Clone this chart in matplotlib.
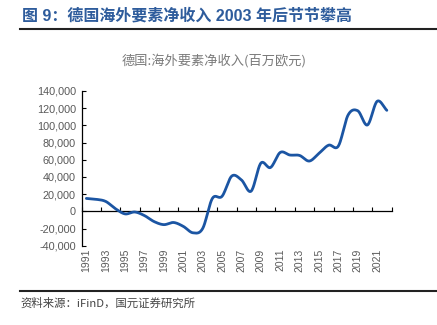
import matplotlib
matplotlib.use('Agg')
import matplotlib.pyplot as plt
import numpy as np
from matplotlib.lines import Line2D
from matplotlib.ticker import FuncFormatter

plt.rcParams['font.family'] = ['Liberation Sans', 'Noto Sans CJK SC', 'DejaVu Sans']

# data (百万欧元)
years = np.arange(1991, 2023)
income = [15000, 14000, 11500, 3000, -3000, -800, -5000, -12000, -15500, -13000,
          -17500, -25000, -20000, 15000, 17500, 41000, 36500, 23500, 56000, 51000,
          68500, 65500, 65000, 58500, 67500, 77000, 76000, 112000, 117000, 100500,
          128000, 117500]
xtick_years = years[::2]
yticks = np.arange(-40000, 140001, 20000)

title = '图 9：德国海外要素净收入 2003 年后节节攀高'
chart_title = '德国:海外要素净收入(百万欧元)'
source = '资料来源：iFinD，国元证券研究所'


def smooth(x, y, n=20):
    # catmull-rom style smoothing, like the spreadsheet "smoothed line"
    x = np.asarray(x, float)
    y = np.asarray(y, float)
    px = np.concatenate([[2 * x[0] - x[1]], x, [2 * x[-1] - x[-2]]])
    py = np.concatenate([[2 * y[0] - y[1]], y, [2 * y[-1] - y[-2]]])
    t = np.linspace(0, 1, n, endpoint=False)[:, None]
    out_x, out_y = [], []
    for i in range(1, len(px) - 2):
        for p, out in ((px, out_x), (py, out_y)):
            p0, p1, p2, p3 = p[i - 1], p[i], p[i + 1], p[i + 2]
            c1 = p1 + (p2 - p0) / 6
            c2 = p2 - (p3 - p1) / 6
            b = ((1 - t) ** 3 * p1 + 3 * (1 - t) ** 2 * t * c1
                 + 3 * (1 - t) * t ** 2 * c2 + t ** 3 * p2)
            out.extend(b.ravel())
    out_x.append(x[-1])
    out_y.append(y[-1])
    return np.array(out_x), np.array(out_y)


fig = plt.figure(figsize=(4.37, 3.25), dpi=100)
ax = fig.add_axes([0.1865, 0.244, 0.7098, 0.476])

sx, sy = smooth(years, income)
ax.plot(sx, sy, color='#1B55A3', lw=2.0, solid_capstyle='round')

ax.set_xlim(years[0] - 0.5, years[-1] + 0.5)
ax.set_ylim(yticks[0], yticks[-1])
ax.set_yticks(yticks)
ax.yaxis.set_major_formatter(FuncFormatter(lambda v, p: f'{int(v):,}'))
ax.tick_params(axis='y', direction='in', length=3, width=0.8, colors='black',
               labelcolor='#595959', labelsize=7.8, pad=4)

ax.set_xticks(xtick_years)
ax.set_xticklabels([str(y) for y in xtick_years], rotation=90)
ax.tick_params(axis='x', length=0, labelcolor='#595959', labelsize=7.5, pad=2)

for s in ('top', 'right', 'bottom'):
    ax.spines[s].set_visible(False)
ax.spines['left'].set_linewidth(0.9)

# zero line with category boundary ticks
zero_pos = (0 - yticks[0]) / (yticks[-1] - yticks[0])
sec = ax.secondary_xaxis(zero_pos)
sec.set_xticks(np.arange(years[0] - 0.5, years[-1] + 1, 2))
sec.tick_params(axis='x', direction='in', length=3, width=0.8, labelbottom=False)
sec.spines['bottom'].set_linewidth(0.9)

fig.text(0.05, 0.953, title, color='#2E5C9C', fontsize=11.5, fontweight='bold',
         ha='left', va='center', family=['Liberation Sans', 'Noto Sans CJK SC'])
fig.add_artist(Line2D([0.046, 1.0], [0.912, 0.912], color='#222222', lw=1.5))
fig.text(0.49, 0.815, chart_title, color='#7A7A7A', fontsize=9.5,
         ha='center', va='center', family=['Noto Sans CJK SC', 'DejaVu Sans'])
fig.add_artist(Line2D([0.046, 1.0], [0.106, 0.106], color='#222222', lw=1.5))
fig.text(0.048, 0.068, source, color='#444444', fontsize=8.2,
         ha='left', va='center', family=['Noto Sans CJK SC', 'DejaVu Sans'])

fig.savefig('out.png', dpi=100)
